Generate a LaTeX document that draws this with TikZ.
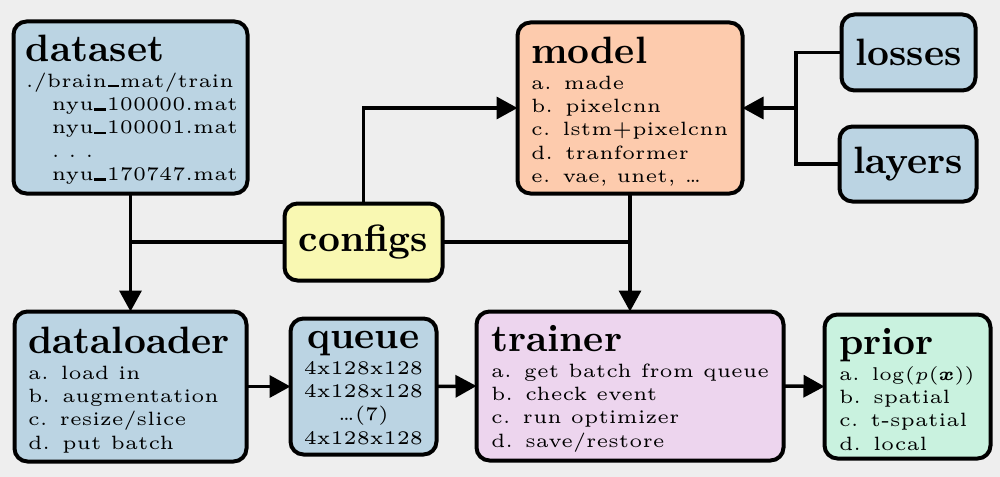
\documentclass[tikz,border=0pt]{standalone}
\usepackage{amsmath}
\usepackage{graphicx}
\usetikzlibrary{arrows.meta}
\definecolor{bg}{RGB}{238,238,238}
\definecolor{cblue}{RGB}{187,212,227}
\definecolor{cpeach}{RGB}{253,203,173}
\definecolor{cyellow}{RGB}{249,248,178}
\definecolor{clav}{RGB}{237,213,238}
\definecolor{cmint}{RGB}{201,242,223}
\newcommand\ttl[1]{{\fontsize{10.3}{12}\selectfont\bfseries\vphantom{d}#1}}
\newcommand\bdy{\fontsize{5.2}{6.3}\selectfont}
\newcommand\us{\kern0.15pt\rule{3.2pt}{0.6pt}\kern0.15pt}
\newcommand\gap{\par\vspace{0.8pt}}
\newcommand\boxtxt[5]{\parbox[c][#2][t]{#1}{\vspace*{#3}\hspace*{#4}\scalebox{3.7}{#5}}}
\newcommand\bigword[1]{\scalebox{3.7}{\ttl{#1}}}
\tikzset{
  box/.style={draw=black, line width=4pt, rounded corners=13pt, inner sep=0pt, outer sep=0pt},
  conn/.style={draw=black, line width=3.5pt},
  arr/.style={conn, -{Triangle[length=21pt,width=22pt]}}
}
\begin{document}
\begin{tikzpicture}[x=1pt,y=-1pt]
\useasboundingbox (0,0) rectangle (1000,476);
\fill[bg] (-8,-8) rectangle (1008,484);

\node[box, fill=cblue] (dataset) at (130.5,107.5) {\boxtxt{234pt}{172pt}{13.1pt}{12.5pt}{\parbox[t]{60pt}{\raggedright\ttl{dataset}\gap\bdy
./brain\us mat/train\\
\hspace*{7pt}nyu\us 100000.mat\\
\hspace*{7pt}nyu\us 100001.mat\\
\hspace*{7pt}.\ .\ .\\
\hspace*{7pt}nyu\us 170747.mat}}};

\node[box, fill=cpeach] (model) at (630,108) {\boxtxt{225pt}{171pt}{14.1pt}{13.5pt}{\parbox[t]{57pt}{\raggedright\ttl{model}\gap\bdy
a. made\\
b. pixelcnn\\
c. lstm+pixelcnn\\
d. tranformer\\
e. vae, unet, \dots}}};

\node[box, fill=cblue, minimum width=134pt, minimum height=76pt] (losses) at (908.5,52.5) {\bigword{losses}};
\node[box, fill=cblue, minimum width=137pt, minimum height=75pt] (layers) at (908,164) {\bigword{layers}};
\node[box, fill=cyellow, minimum width=158pt, minimum height=77pt] (configs) at (363.5,242) {\bigword{configs}};

\node[box, fill=cblue] (dataloader) at (130.5,386.5) {\boxtxt{232pt}{150pt}{15.1pt}{13.5pt}{\parbox[t]{59pt}{\raggedright\ttl{dataloader}\gap\bdy
a. load in\\
b. augmentation\\
c. resize/slice\\
d. put batch}}};

\node[box, fill=cblue] (queue) at (363.5,386.5) {\boxtxt{146pt}{136pt}{3.1pt}{0pt}{\parbox[t]{39.4pt}{\centering\ttl{queue}\gap\bdy
4x128x128\\
4x128x128\\
\dots(7)\\
4x128x128}}};

\node[box, fill=clav] (trainer) at (630,386) {\boxtxt{307pt}{149pt}{13.1pt}{14.5pt}{\parbox[t]{79pt}{\raggedright\ttl{trainer}\gap\bdy
a. get batch from queue\\
b. check event\\
c. run optimizer\\
d. save/restore}}};

\node[box, fill=cmint] (prior) at (907.5,386.5) {\boxtxt{166pt}{144pt}{13.1pt}{14.5pt}{\parbox[t]{41pt}{\raggedright\ttl{prior}\gap\bdy
a. $\log(p(\boldsymbol{x}))$\\
b. spatial\\
c. t-spatial\\
d. local}}};

\coordinate (j) at (796,108);

\draw[arr] (dataset.south) -- (dataloader.north);
\draw[conn] (configs.west) -- (configs.west -| dataset.south);
\draw[arr] (configs.north) |- (model.west);
\draw[conn] (configs.east) -- (configs.east -| model.south);
\draw[arr] (model.south) -- (trainer.north);
\draw[conn] (losses.west) -| (j) |- (layers.west);
\draw[arr] (j) -- (model.east);
\draw[arr] (dataloader.east) -- (queue.west);
\draw[arr] (queue.east) -- (trainer.west);
\draw[arr] (trainer.east) -- (prior.west);
\end{tikzpicture}
\end{document}
